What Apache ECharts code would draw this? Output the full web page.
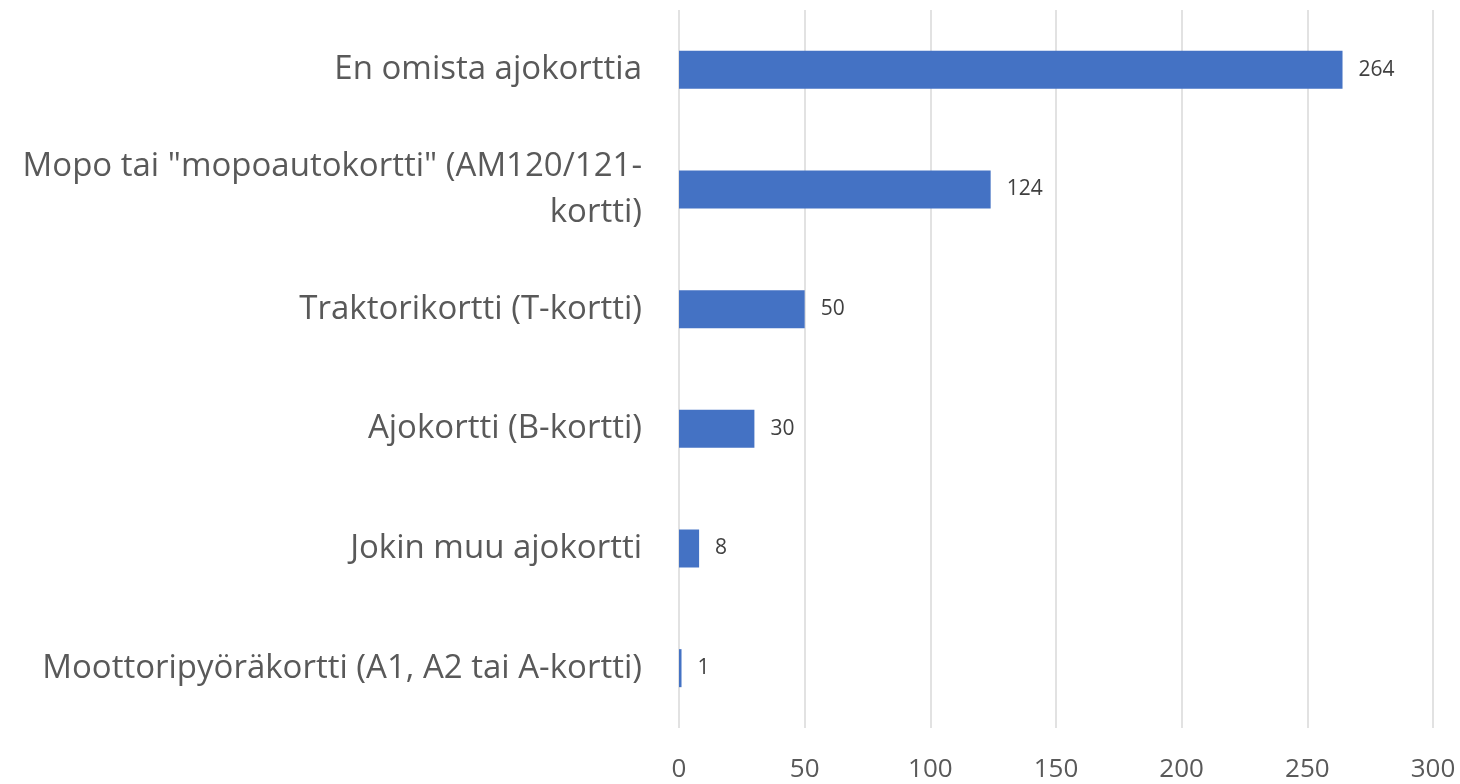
<!DOCTYPE html>
<html>
<head>
<meta charset="utf-8">
<script src="https://cdn.jsdelivr.net/npm/echarts@6/dist/echarts.min.js"></script>
<style>
  html, body { margin: 0; padding: 0; background: #fff; }
  #chart { width: 1460px; height: 784px; }
</style>
</head>
<body>
<div id="chart"></div>
<script>
// categories top -> bottom
var categories = [
  'En omista ajokorttia',
  'Mopo tai "mopoautokortti" (AM120/121-\nkortti)',
  'Traktorikortti (T-kortti)',
  'Ajokortti (B-kortti)',
  'Jokin muu ajokortti',
  'Moottoripyöräkortti (A1, A2 tai A-kortti)'
];
var counts = [264, 124, 50, 30, 8, 1];
var xMin = 0;
var xMax = 300;
var xStep = 50;

var font = "'Open Sans', 'Noto Sans', sans-serif";

var chart = echarts.init(document.getElementById('chart'));
chart.setOption({
  animation: false,
  grid: { left: 679, right: 27, top: 10, bottom: 56, containLabel: false },
  xAxis: {
    type: 'value',
    min: xMin,
    max: xMax,
    interval: xStep,
    axisLine: { show: false },
    axisTick: { show: false },
    splitLine: { show: true, lineStyle: { color: '#d9d9d9', width: 1.5 } },
    axisLabel: { color: '#595959', fontSize: 26, fontFamily: font, margin: 29 }
  },
  yAxis: {
    type: 'category',
    inverse: true,
    data: categories,
    axisLine: { show: false },
    axisTick: { show: false },
    axisLabel: {
      color: '#595959', fontSize: 33, fontFamily: font, margin: 37,
      align: 'right', lineHeight: 46
    }
  },
  series: [{
    type: 'bar',
    data: counts,
    barWidth: 38,
    itemStyle: { color: '#4472C4' },
    label: {
      show: true, position: 'right', distance: 16,
      color: '#404040', fontSize: 21, fontFamily: font
    }
  }]
});
</script>
</body>
</html>
